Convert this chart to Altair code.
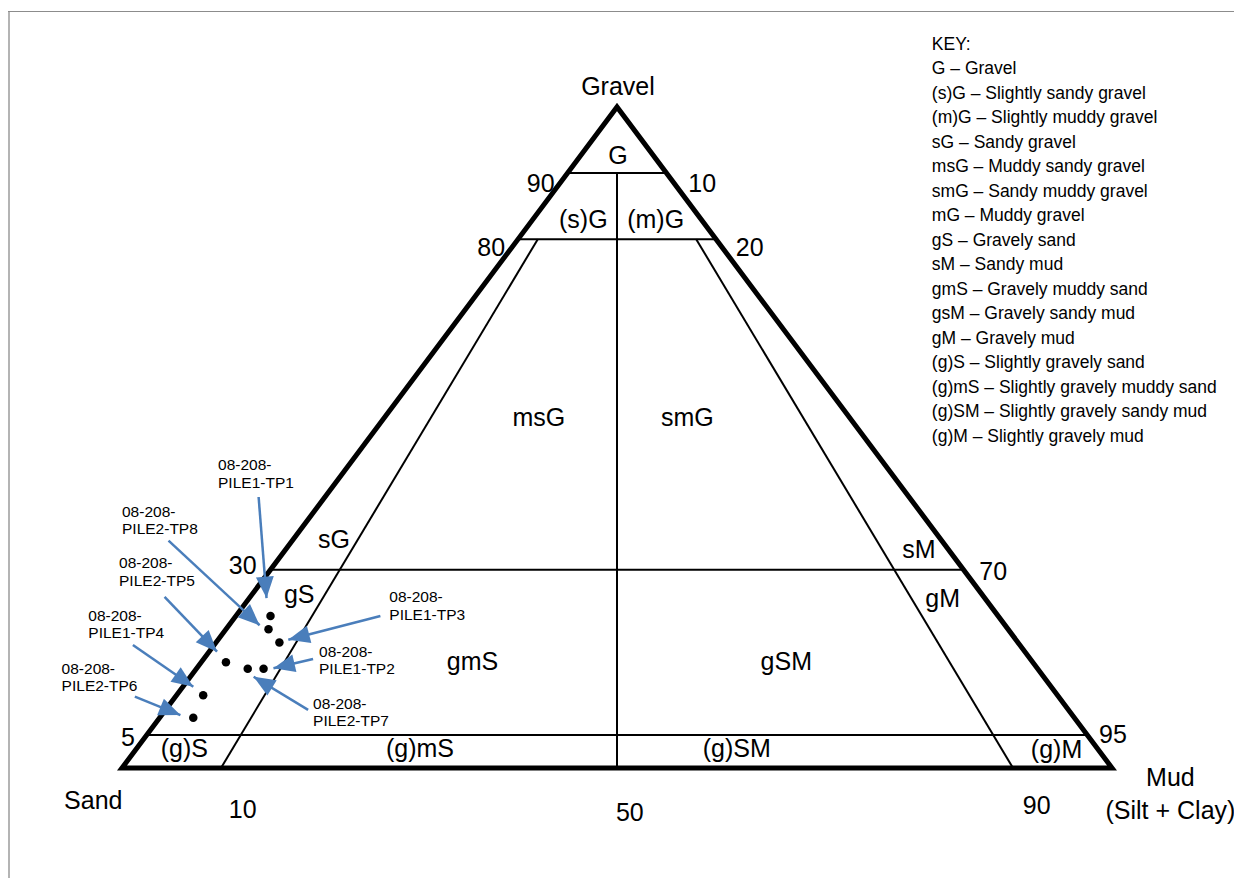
import altair as alt
import pandas as pd

# ---------------- data ----------------
sample_ids = ["08-208-PILE1-TP1", "08-208-PILE2-TP8", "08-208-PILE1-TP3",
              "08-208-PILE2-TP5", "08-208-PILE2-TP7", "08-208-PILE1-TP2",
              "08-208-PILE1-TP4", "08-208-PILE2-TP6"]
gravel_pct = [23.0, 21.0, 19.0, 16.0, 15.0, 15.0, 11.0, 7.6]
sand_pct = [73.5, 74.7, 74.6, 81.5, 79.8, 78.2, 86.3, 89.0]
mud_pct = [3.5, 4.3, 6.4, 2.5, 5.2, 6.8, 2.7, 3.4]

# callout placement in diagram units (x along the Sand->Mud base, y = gravel %)
callout_x = [9.7, 0.0, 27.0, -0.3, 19.3, 19.9, -3.4, -6.1]
callout_y = [45.8, 38.8, 25.8, 31.0, 9.7, 17.6, 23.0, 15.0]
arrow_x1 = [13.8, 4.7, 26.1, 4.3, 18.8, 19.3, 1.1, 1.3]
arrow_y1 = [41.0, 34.4, 23.0, 25.9, 8.8, 16.5, 18.6, 10.8]
arrow_x2 = [14.6, 13.9, 16.8, 9.6, 13.3, 15.3, 7.2, 5.9]
arrow_y2 = [25.7, 21.6, 19.4, 17.6, 13.8, 15.1, 12.3, 8.0]

# triangle corners (gravel %, mud %) : Sand -> Gravel -> Mud -> Sand -> Gravel
corner_g = [0, 100, 0, 0, 100]
corner_m = [0, 0, 100, 0, 0]

# class boundaries, (gravel %, mud %) at each end
bound_g1 = [90, 80, 30, 5, 0, 0, 0]
bound_m1 = [0, 0, 0, 0, 10, 50, 90]
bound_g2 = [90, 80, 30, 5, 80, 90, 80]
bound_m2 = [10, 20, 70, 95, 2, 5, 18]

# class labels (diagram units)
class_names = ["G", "(s)G", "(m)G", "msG", "smG", "sG", "gS", "gmS", "gSM",
               "sM", "gM", "(g)S", "(g)mS", "(g)SM", "(g)M"]
class_x = [50.1, 46.6, 53.9, 42.1, 57.1, 21.4, 17.9, 35.4, 67.1,
           80.5, 82.9, 6.3, 30.1, 62.1, 94.4]
class_y = [92.6, 82.9, 82.9, 53.0, 53.0, 34.5, 26.2, 16.0, 16.0,
           33.0, 25.6, 2.9, 2.9, 2.9, 2.7]

# scale numbers and corner names (diagram units)
tick_text = ["90", "10", "80", "20", "30", "70", "5", "95", "10", "50", "90",
             "Gravel", "Sand", "Mud", "(Silt + Clay)"]
tick_x = [42.3, 58.6, 37.3, 63.4, 12.2, 88.0, 0.6, 100.1, 12.2, 51.3, 92.4,
          50.1, -2.9, 105.9, 105.9]
tick_y = [88.4, 88.4, 78.7, 78.7, 30.6, 29.7, 4.5, 5.0, -6.3, -6.8, -5.8,
          103.0, -5.0, -1.5, -6.5]

key_lines = ["KEY:", "G – Gravel", "(s)G – Slightly sandy gravel",
             "(m)G – Slightly muddy gravel", "sG – Sandy gravel",
             "msG – Muddy sandy gravel", "smG – Sandy muddy gravel",
             "mG – Muddy gravel", "gS – Gravely sand", "sM – Sandy mud",
             "gmS – Gravely muddy sand", "gsM – Gravely sandy mud",
             "gM – Gravely mud", "(g)S – Slightly gravely sand",
             "(g)mS – Slightly gravely muddy sand",
             "(g)SM – Slightly gravely sandy mud",
             "(g)M – Slightly gravely mud"]

# ---------------- layout ----------------
W, H = 1226, 870
PX, PY = 9.9, 6.61          # pixels per diagram unit
X0, Y0 = 114, 760           # plot-pixel position of the Sand corner
xdom = [-X0 / PX, (W - X0) / PX]
ydom = [(Y0 - H) / PY, Y0 / PY]
xs = alt.Scale(domain=xdom, nice=False, zero=False)
ys = alt.Scale(domain=ydom, nice=False, zero=False)
KEY_X, KEY_Y0, KEY_DY = 81.8, 109.4, 24.5 / PY
FONT = "Liberation Sans, Arial, sans-serif"
BLUE = "#4a7ebb"


def X(f):
    return alt.X(f, type="quantitative", scale=xs, axis=None)


def Y(f):
    return alt.Y(f, type="quantitative", scale=ys, axis=None)


tern_x = "datum.m + datum.g / 2"

# page frame
frame = pd.DataFrame({
    "x1": [xdom[0] + 1 / PX, xdom[0]],
    "x2": [xdom[0] + 1 / PX, xdom[1]],
    "y1": [ydom[0], ydom[1] - 3.5 / PY],
    "y2": [ydom[1] - 3.5 / PY, ydom[1] - 3.5 / PY],
    "c": ["#b4b4b4", "#8c8c8c"],
    "w": [2, 1],
})
frame_layer = alt.Chart(frame).mark_rule().encode(
    x=X("x1"), x2="x2", y=Y("y1"), y2="y2",
    color=alt.Color("c:N", scale=None),
    strokeWidth=alt.StrokeWidth("w:Q", scale=None),
)

bounds = pd.DataFrame({"g1": bound_g1, "m1": bound_m1, "g2": bound_g2, "m2": bound_m2})
bound_layer = alt.Chart(bounds).transform_calculate(
    x1="datum.m1 + datum.g1 / 2", y1="datum.g1",
    x2="datum.m2 + datum.g2 / 2", y2="datum.g2",
).mark_rule(color="black", strokeWidth=2).encode(
    x=X("x1"), x2="x2:Q", y=Y("y1"), y2="y2:Q")

outline = pd.DataFrame({"g": corner_g, "m": corner_m, "i": list(range(len(corner_g)))})
outline_layer = alt.Chart(outline).transform_calculate(
    x=tern_x, y="datum.g").mark_line(
    color="black", strokeWidth=5, strokeJoin="miter", strokeMiterLimit=20).encode(
    x=X("x"), y=Y("y"), order="i:Q")

samples = pd.DataFrame({"id": sample_ids, "g": gravel_pct, "s": sand_pct, "m": mud_pct})
point_layer = alt.Chart(samples).transform_calculate(
    x=tern_x, y="datum.g").mark_circle(color="black", size=72, opacity=1).encode(
    x=X("x"), y=Y("y"), tooltip=["id:N", "g:Q", "s:Q", "m:Q"])

callouts = pd.DataFrame({
    "label": [s.replace("208-", "208-\n", 1) for s in sample_ids],
    "lx": callout_x, "ly": callout_y,
    "x1": arrow_x1, "y1": arrow_y1, "x2": arrow_x2, "y2": arrow_y2,
})
arrow_layer = alt.Chart(callouts).mark_rule(color=BLUE, strokeWidth=2.5).encode(
    x=X("x1"), x2="x2:Q", y=Y("y1"), y2="y2:Q")
head_layer = alt.Chart(callouts).transform_calculate(
    ang=f"(atan2((datum.x2 - datum.x1) * {PX}, (datum.y2 - datum.y1) * {PY}) * 180 / PI + 360) % 360"
).mark_point(shape="M0,0L-1,2.4L1,2.4Z", filled=True, color=BLUE, opacity=1,
             size=320, strokeWidth=0).encode(
    x=X("x2"), y=Y("y2"), angle=alt.Angle("ang:Q", scale=None))
callout_text = alt.Chart(callouts).mark_text(
    align="left", baseline="middle", lineBreak="\n", lineHeight=17.5,
    font=FONT, fontSize=15.5, color="black").encode(
    x=X("lx"), y=Y("ly"), text="label:N")

classes = pd.DataFrame({"t": class_names, "x": class_x, "y": class_y})
class_layer = alt.Chart(classes).mark_text(
    align="center", baseline="middle", font=FONT, fontSize=25, color="black").encode(
    x=X("x"), y=Y("y"), text="t:N")

ticks = pd.DataFrame({"t": tick_text, "x": tick_x, "y": tick_y})
tick_layer = alt.Chart(ticks).mark_text(
    align="center", baseline="middle", font=FONT, fontSize=25, color="black").encode(
    x=X("x"), y=Y("y"), text="t:N")

key = pd.DataFrame({"t": key_lines})
key["x"] = KEY_X
key["y"] = [KEY_Y0 - i * KEY_DY for i in range(len(key_lines))]
key_layer = alt.Chart(key).mark_text(
    align="left", baseline="middle", font=FONT,
    fontSize=17.5, color="black").encode(
    x=X("x"), y=Y("y"), text="t:N")

chart = alt.layer(
    frame_layer, bound_layer, outline_layer, arrow_layer, head_layer,
    point_layer, callout_text, class_layer, tick_layer, key_layer,
).properties(
    width=W, height=H, padding=0, background="white",
    autosize=alt.AutoSizeParams(type="none"),
).configure_view(stroke=None)

chart.save("out.html", embed_options={"renderer": "svg", "actions": False})
